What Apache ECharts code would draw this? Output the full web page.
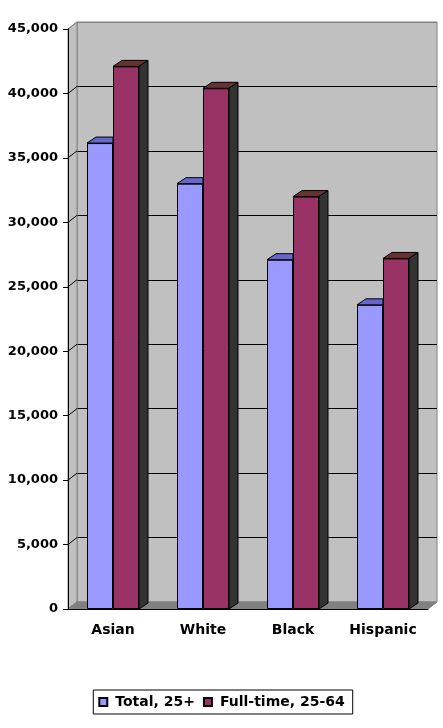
<!DOCTYPE html>
<html lang="en">
<head>
	<meta charset="UTF-8">
	<title>earnings</title>
	<style>
		html, body{
			margin: 0;
			padding: 0;
			background: #fff;
		}
		#main{
			width: 443px;
			height: 728px;
		}
	</style>
	<script src="https://cdn.jsdelivr.net/npm/echarts@6/dist/echarts.min.js"></script>
</head>
<body>
	<div id="main"></div>
	<script>
		// data
		var groups = ['Asian', 'White', 'Black', 'Hispanic'];
		var totalVals = [36150, 33000, 27100, 23600];
		var fullVals = [42100, 40400, 32000, 27200];
		var yTicks = [0, 5000, 10000, 15000, 20000, 25000, 30000, 35000, 40000, 45000];
		var seriesNames = ['Total, 25+', 'Full-time, 25-64'];

		var FONT = 'DejaVu Sans';
		var BW = 26;   // bar width
		var DX = 9, DY = 6;    // bar depth
		var WX = 9, WY = 7;    // wall depth

		var myChart = echarts.init(document.getElementById('main'));

		// left wall, floor and little diagonal ticks on the side wall
		function renderFrame(params, api){
			var cs = params.coordSys;
			var y0 = api.coord([0, 0])[1];
			var xl = cs.x, xr = cs.x + cs.width;
			var kids = [];
			kids.push({
				type: 'polygon',
				shape: {points: [[xl, cs.y], [xl + WX, cs.y - WY], [xl + WX, y0 - WY], [xl, y0]]},
				style: {fill: '#c0c0c0', stroke: '#808080', lineWidth: 1}
			});
			kids.push({
				type: 'polygon',
				shape: {points: [[xl, y0], [xr, y0], [xr + WX, y0 - WY], [xl + WX, y0 - WY]]},
				style: {fill: '#808080', stroke: '#808080', lineWidth: 1}
			});
			for(var i = 0; i < yTicks.length; i++){
				var y = api.coord([0, yTicks[i]])[1];
				var c = (i === 0 || i === yTicks.length - 1) ? '#808080' : '#000';
				kids.push({
					type: 'line',
					shape: {x1: xl, y1: y, x2: xl + WX, y2: y - WY},
					style: {stroke: c, lineWidth: 1}
				});
			}
			return {type: 'group', children: kids};
		}

		// tops and sides of the columns
		function renderBlocks(params, api){
			var i = api.value(0);
			var base = api.coord([i, 0]);
			var cx = base[0], y0 = base[1];
			var yb = api.coord([i, api.value(1)])[1];
			var yr = api.coord([i, api.value(2)])[1];
			return {
				type: 'group',
				children: [{
					type: 'polygon',
					shape: {points: [[cx - BW, yb], [cx, yb], [cx, yb - DY], [cx - BW + DX, yb - DY]]},
					style: {fill: '#6666cc', stroke: '#000', lineWidth: 1}
				},{
					type: 'polygon',
					shape: {points: [[cx, yr], [cx + BW, yr], [cx + BW + DX, yr - DY], [cx + DX, yr - DY]]},
					style: {fill: '#663333', stroke: '#000', lineWidth: 1}
				},{
					type: 'polygon',
					shape: {points: [[cx + BW, yr], [cx + BW + DX, yr - DY], [cx + BW + DX, y0 - DY], [cx + BW, y0]]},
					style: {fill: '#333333', stroke: '#000', lineWidth: 1}
				}]
			};
		}

		var blockData = groups.map(function(g, i){
			return [i, totalVals[i], fullVals[i]];
		});

		var gridColors = yTicks.map(function(v, i){
			return i === yTicks.length - 1 ? '#808080' : '#000';
		});

		var option = {
			animation: false,
			backgroundColor: '#fff',
			textStyle: {fontFamily: FONT},
			legend: {
				data: seriesNames,
				left: 'center',
				top: 690,
				icon: 'rect',
				itemWidth: 8,
				itemHeight: 8,
				itemGap: 8,
				padding: [5, 8, 5, 5],
				borderColor: '#000',
				borderWidth: 1,
				textStyle: {
					fontFamily: FONT,
					fontWeight: 'bold',
					fontSize: 14,
					color: '#000',
					padding: [0, 0, 0, 3]
				}
			},
			grid: [{
				// front plane: axes and columns
				left: 68, right: 15, top: 29, bottom: 119,
				z: 2
			},{
				// back wall
				left: 77, right: 6, top: 22, bottom: 126,
				show: true,
				backgroundColor: '#c0c0c0',
				borderColor: '#808080',
				borderWidth: 1,
				z: 0
			}],
			xAxis: [{
				type: 'category',
				gridIndex: 0,
				data: groups,
				axisLine: {lineStyle: {color: '#000', width: 1}},
				axisTick: {length: 5, lineStyle: {color: '#000'}},
				axisLabel: {
					color: '#000',
					fontFamily: FONT,
					fontWeight: 'bold',
					fontSize: 14,
					margin: 14
				},
				z: 5
			},{
				type: 'category',
				gridIndex: 1,
				data: groups,
				show: false
			}],
			yAxis: [{
				type: 'value',
				gridIndex: 0,
				min: 0,
				max: 45000,
				interval: 5000,
				axisLine: {show: true, lineStyle: {color: '#000', width: 1}},
				axisTick: {show: true, length: 5, lineStyle: {color: '#000'}},
				splitLine: {show: false},
				axisLabel: {
					color: '#000',
					fontFamily: FONT,
					fontWeight: 'bold',
					fontSize: 13,
					margin: 10,
					formatter: function(v){
						return v.toLocaleString('en-US');
					}
				},
				z: 5
			},{
				type: 'value',
				gridIndex: 1,
				min: 0,
				max: 45000,
				interval: 5000,
				axisLine: {show: false},
				axisTick: {show: false},
				axisLabel: {show: false},
				splitLine: {show: true, lineStyle: {color: gridColors, width: 1}},
				z: 0
			}],
			series: [{
				name: 'frame',
				type: 'custom',
				xAxisIndex: 0,
				yAxisIndex: 0,
				renderItem: renderFrame,
				data: [[0, 0]],
				clip: false,
				silent: true,
				z: 1
			},{
				name: seriesNames[0],
				type: 'bar',
				xAxisIndex: 0,
				yAxisIndex: 0,
				data: totalVals,
				barWidth: BW,
				barGap: '0%',
				itemStyle: {color: '#9999ff', borderColor: '#000', borderWidth: 1},
				z: 2
			},{
				name: seriesNames[1],
				type: 'bar',
				xAxisIndex: 0,
				yAxisIndex: 0,
				data: fullVals,
				barWidth: BW,
				barGap: '0%',
				itemStyle: {color: '#993366', borderColor: '#000', borderWidth: 1},
				z: 2
			},{
				name: 'blocks',
				type: 'custom',
				xAxisIndex: 0,
				yAxisIndex: 0,
				renderItem: renderBlocks,
				data: blockData,
				clip: false,
				silent: true,
				z: 3
			}]
		};

		myChart.setOption(option);
	</script>
</body>
</html>
